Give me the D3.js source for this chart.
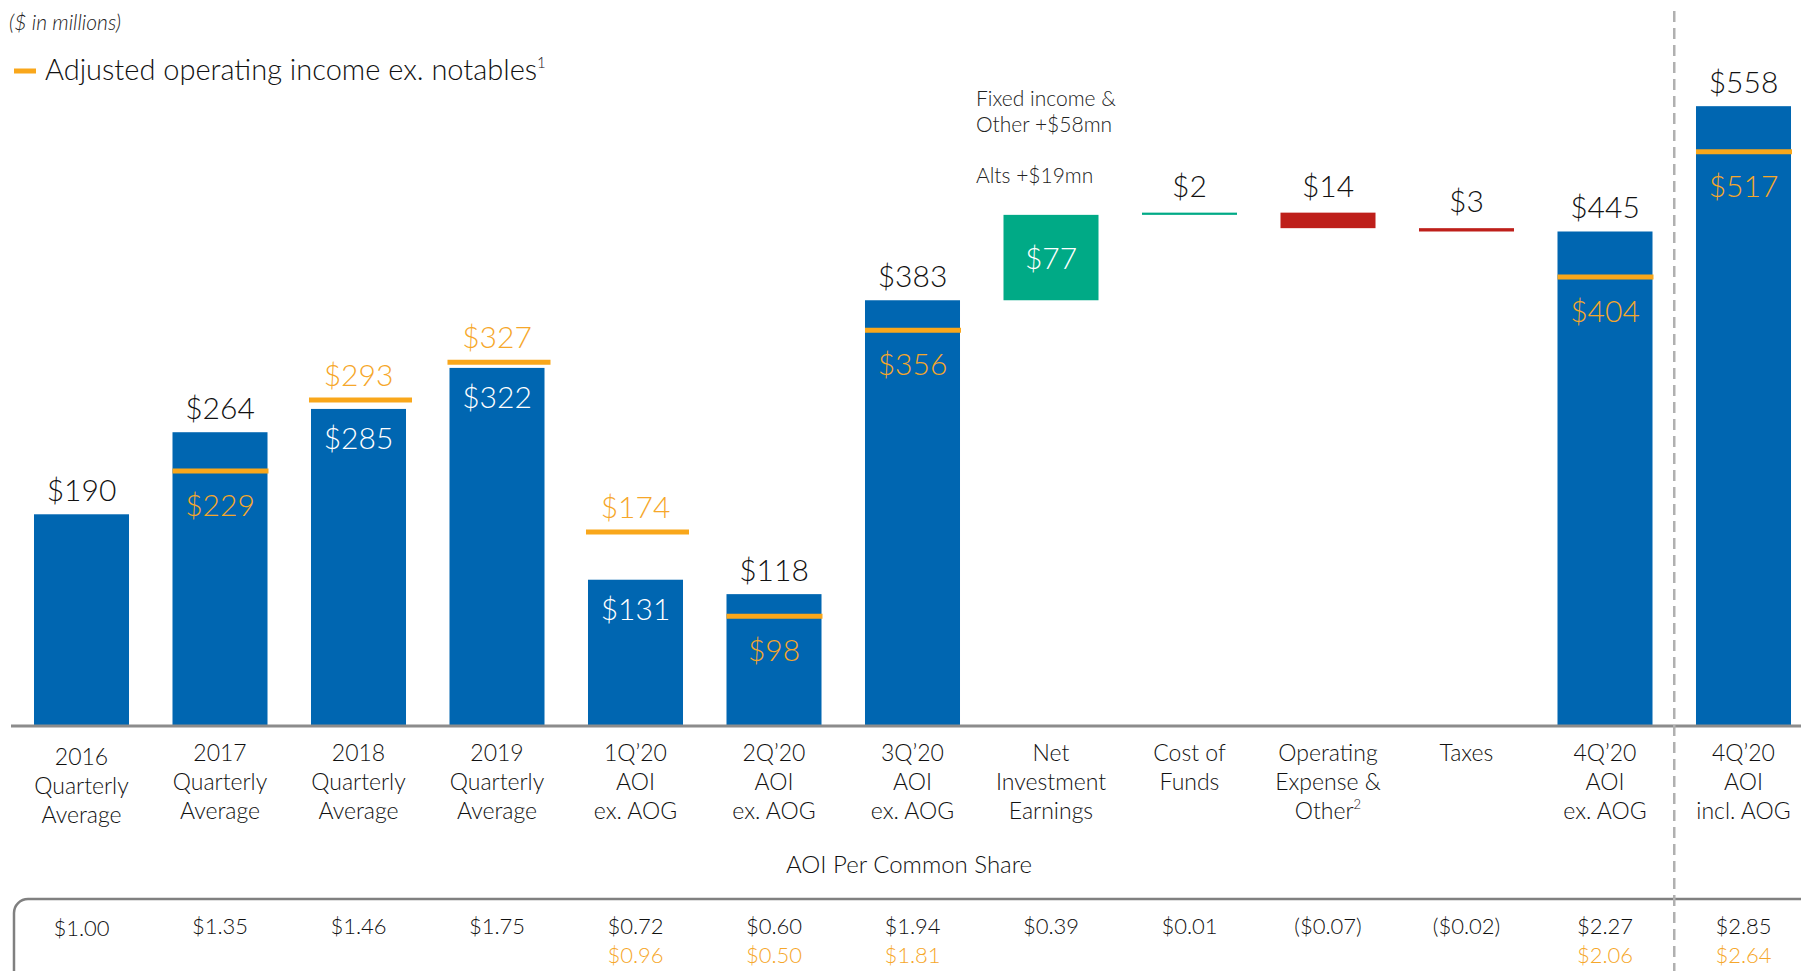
<!DOCTYPE html>
<html>
<head>
<meta charset="utf-8">
<script src="https://cdn.jsdelivr.net/npm/d3@7"></script>
<style>
  body { margin: 0; background: #fff; }
  svg { display: block; font-family: Lato, "Open Sans", sans-serif; font-weight: 300; }
</style>
</head>
<body>
<svg id="chart" width="1801" height="971"></svg>
<script>
// Donnees
var categories = ["2016", "2017", "2018", "2019", "1Q20", "2Q20", "3Q20", "NIE", "COF", "OPEX", "TAX", "4Q20ex", "4Q20incl"];
var etiquettes = [
    ["2016", "Quarterly", "Average"],
    ["2017", "Quarterly", "Average"],
    ["2018", "Quarterly", "Average"],
    ["2019", "Quarterly", "Average"],
    ["1Q\u201920", "AOI", "ex. AOG"],
    ["2Q\u201920", "AOI", "ex. AOG"],
    ["3Q\u201920", "AOI", "ex. AOG"],
    ["Net", "Investment", "Earnings"],
    ["Cost of", "Funds"],
    ["Operating", "Expense &", "Other|2"],
    ["Taxes"],
    ["4Q\u201920", "AOI", "ex. AOG"],
    ["4Q\u201920", "AOI", "incl. AOG"]
];
// AOI (barres bleues), null = etape du waterfall
var aoi = [190, 264, 285, 322, 131, 118, 383, null, null, null, null, 445, 558];
// AOI ex. notables (traits orange)
var exNotables = [null, 229, 293, 327, 174, 98, 356, null, null, null, null, 404, 517];
// Etapes du waterfall 3Q'20 -> 4Q'20
var etapes = { NIE: 77, COF: 2, OPEX: -14, TAX: -3 };
// AOI par action
var parAction = ["$1.00", "$1.35", "$1.46", "$1.75", "$0.72", "$0.60", "$1.94", "$0.39", "$0.01", "($0.07)", "($0.02)", "$2.27", "$2.85"];
var parActionEx = [null, null, null, null, "$0.96", "$0.50", "$1.81", null, null, null, null, "$2.06", "$2.64"];

// Couleurs
var bleu = "#0066b1", orange = "#f9a71b", texteOrange = "#f6a72a", vert = "#00aa86", rouge = "#be1f1a";

var svg = d3.select("#chart");
var basey = 725;

var x = d3.scaleBand().domain(categories).range([12.25, 1812.75]).paddingInner(0.314).paddingOuter(0.157);
var y = d3.scaleLinear().domain([0, 600]).range([basey, basey - 600 * 1.109]);
var bw = x.bandwidth();

// Titre et legende
svg.append("text").attr("x", 9).attr("y", 30).attr("font-size", 21).attr("font-style", "italic").attr("fill", "#222").text("($ in millions)");
svg.append("line").attr("x1", 14).attr("x2", 36).attr("y1", 71).attr("y2", 71).attr("stroke", orange).attr("stroke-width", 5);
var leg = svg.append("text").attr("x", 45).attr("y", 80).attr("font-size", 29).attr("fill", "#111");
leg.append("tspan").text("Adjusted operating income ex. notables");
leg.append("tspan").attr("font-size", 15).attr("dy", -12).text("1");

// Barres principales
var donnees = categories.map(function (c, i) { return { cat: c, aoi: aoi[i], ex: exNotables[i] }; });
var principales = donnees.filter(function (d) { return d.aoi !== null; });

svg.selectAll("rect.barre").data(principales).enter().append("rect")
    .attr("class", "barre")
    .attr("x", function (d) { return x(d.cat); })
    .attr("width", bw)
    .attr("y", function (d) { return y(d.aoi); })
    .attr("height", function (d) { return basey - y(d.aoi); })
    .attr("fill", bleu);

// Waterfall
var cumul = aoi[6];
var marches = Object.keys(etapes).map(function (c) {
    var v = etapes[c];
    var m = { cat: c, v: v, debut: cumul, fin: cumul + v };
    cumul += v;
    return m;
});
svg.selectAll("rect.marche").data(marches).enter().append("rect")
    .attr("class", "marche")
    .attr("x", function (d) { return x(d.cat); })
    .attr("width", bw)
    .attr("y", function (d) { return y(Math.max(d.debut, d.fin)); })
    .attr("height", function (d) { return Math.max(2, Math.abs(y(d.debut) - y(d.fin))); })
    .attr("fill", function (d) { return d.v >= 0 ? vert : rouge; });

svg.selectAll("text.marche").data(marches).enter().append("text")
    .attr("text-anchor", "middle")
    .attr("font-size", 30)
    .attr("x", function (d) { return x(d.cat) + bw / 2; })
    .attr("y", function (d) {
        if (d.cat === "NIE") return (y(d.debut) + y(d.fin)) / 2 + 11;
        return y(Math.max(d.debut, d.fin)) - 16;
    })
    .attr("fill", function (d) { return d.cat === "NIE" ? "#fff" : "#111"; })
    .text(function (d) { return "$" + Math.abs(d.v); });

// Annotation
var note = svg.append("text").attr("font-size", 21).attr("fill", "#222");
note.append("tspan").attr("x", 976).attr("y", 106).text("Fixed income &");
note.append("tspan").attr("x", 976).attr("y", 132).text("Other +$58mn");
note.append("tspan").attr("x", 976).attr("y", 183).text("Alts +$19mn");

// Traits orange (ex. notables)
var avecEx = principales.filter(function (d) { return d.ex !== null; });
svg.selectAll("line.ex").data(avecEx).enter().append("line")
    .attr("x1", function (d) { return x(d.cat) - (d.ex > d.aoi ? 2 : 0); })
    .attr("x2", function (d) { return x(d.cat) + bw + (d.ex > d.aoi ? 6 : 1); })
    .attr("y1", function (d) { return y(d.ex); })
    .attr("y2", function (d) { return y(d.ex); })
    .attr("stroke", orange)
    .attr("stroke-width", 5);

// Etiquettes des barres
principales.forEach(function (d) {
    var cx = x(d.cat) + bw / 2;
    var g = svg.append("g").attr("font-size", 30).attr("text-anchor", "middle");
    if (d.ex !== null && d.ex > d.aoi) {
        g.append("text").attr("x", cx).attr("y", y(d.ex) - 14).attr("fill", texteOrange).text("$" + d.ex);
        g.append("text").attr("x", cx).attr("y", y(d.aoi) + 40).attr("fill", "#fff").text("$" + d.aoi);
    } else {
        g.append("text").attr("x", cx).attr("y", y(d.aoi) - 13).attr("fill", "#111").text("$" + d.aoi);
        if (d.ex !== null) {
            g.append("text").attr("x", cx).attr("y", y(d.ex) + 45).attr("fill", texteOrange).text("$" + d.ex);
        }
    }
});

// Axe
svg.append("line").attr("x1", 11).attr("x2", 1801).attr("y1", basey + 1).attr("y2", basey + 1)
    .attr("stroke", "#8c8c8c").attr("stroke-width", 3);

// Etiquettes de categories
categories.forEach(function (c, i) {
    var t = svg.append("text").attr("font-size", 23).attr("fill", "#111").attr("text-anchor", "middle");
    var cx = x(c) + bw / 2;
    var y0 = 761 + (i === 0 ? 4 : 0);
    etiquettes[i].forEach(function (l, j) {
        var morceaux = l.split("|");
        var ts = t.append("tspan").attr("x", cx).attr("y", y0 + j * 29).text(morceaux[0]);
        if (morceaux[1]) {
            ts.append("tspan").attr("font-size", 13).attr("dy", -10).text(morceaux[1]);
        }
    });
});

svg.append("text").attr("x", 909).attr("y", 873).attr("font-size", 24).attr("fill", "#111")
    .attr("text-anchor", "middle").text("AOI Per Common Share");

// Cadre par action
svg.append("rect").attr("x", 14).attr("y", 899).attr("width", 1830).attr("height", 140).attr("rx", 14)
    .attr("fill", "none").attr("stroke", "#808080").attr("stroke-width", 2.5);

categories.forEach(function (c, i) {
    var cx = x(c) + bw / 2;
    svg.append("text").attr("x", cx).attr("y", 934 + (i === 0 ? 2 : 0)).attr("font-size", 22).attr("fill", "#111")
        .attr("text-anchor", "middle").text(parAction[i]);
    if (parActionEx[i]) {
        svg.append("text").attr("x", cx).attr("y", 963).attr("font-size", 22).attr("fill", texteOrange)
            .attr("text-anchor", "middle").text(parActionEx[i]);
    }
});

// Separateur pointille
var xsep = (x("4Q20ex") + bw + x("4Q20incl")) / 2;
svg.append("line").attr("x1", xsep).attr("x2", xsep).attr("y1", 11).attr("y2", 971)
    .attr("stroke", "#b0b0b0").attr("stroke-width", 2.5).attr("stroke-dasharray", "11,6");
</script>
</body>
</html>
